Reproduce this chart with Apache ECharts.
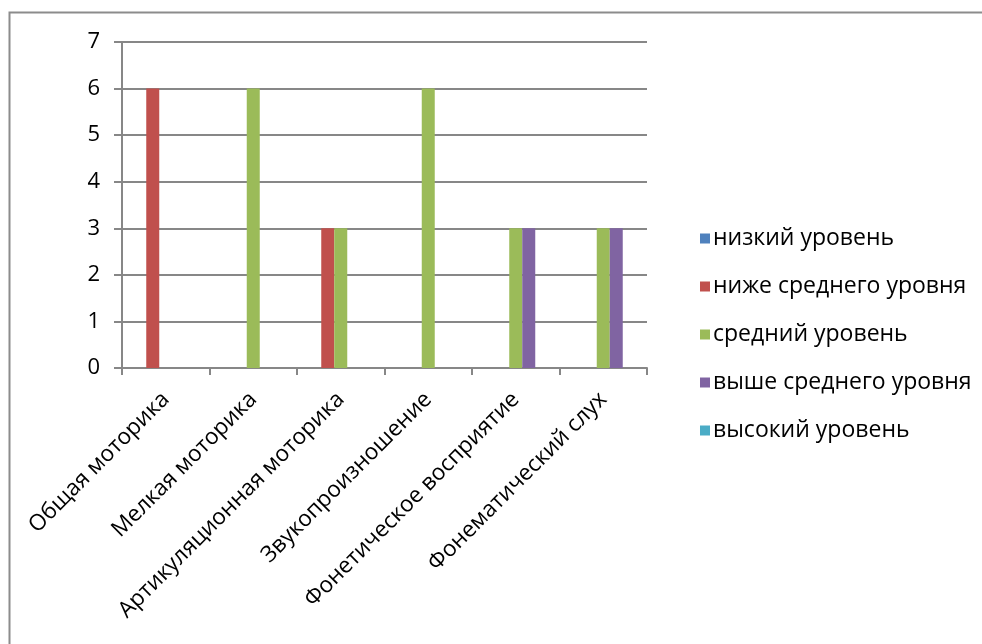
<!DOCTYPE html>
<html>
<head>
<meta charset="utf-8">
<script src="https://cdn.jsdelivr.net/npm/echarts@6/dist/echarts.min.js"></script>
<style>
html,body{margin:0;padding:0;background:#fff;}
#chart{width:982px;height:644px;}
</style>
</head>
<body>
<div id="chart"></div>
<script>
const categories = ["Общая моторика","Мелкая моторика","Артикуляционная моторика","Звукопроизношение","Фонетическое восприятие","Фонематический слух"];
const seriesNames = ["низкий уровень","ниже среднего уровня","средний уровень","выше среднего уровня","высокий уровень"];
const lowLevel = [0,0,0,0,0,0];
const belowAverage = [6,0,3,0,0,0];
const averageLevel = [0,6,3,6,3,3];
const aboveAverage = [0,0,0,0,3,3];
const highLevel = [0,0,0,0,0,0];
const yTicks = [0,1,2,3,4,5,6,7];

const colors = ["#4F81BD","#C0504D","#9BBB59","#8064A2","#4BACC6"];
const seriesData = [lowLevel, belowAverage, averageLevel, aboveAverage, highLevel];
const FONT = "Open Sans";
const chart = echarts.init(document.getElementById('chart'), null, {renderer:'canvas'});
chart.setOption({
  animation:false,
  color: colors,
  graphic:[{
    type:'rect', shape:{x:9.5,y:12.5,width:1000,height:700},
    style:{fill:'none',stroke:'#8c8c8c',lineWidth:2}, silent:true, z:-1
  }],
  grid:{left:122,right:335,top:42,bottom:276,containLabel:false},
  legend:{
    orient:'vertical', left:695, top:222,
    itemWidth:10, itemHeight:10, itemGap:25,
    icon:'rect',
    textStyle:{fontFamily:FONT,fontSize:23,color:'#000',padding:[0,0,0,-2]},
    data: seriesNames
  },
  xAxis:{
    type:'category', data:categories,
    axisLine:{lineStyle:{color:'#878787',width:2}},
    axisTick:{show:true,length:7,alignWithLabel:false,lineStyle:{color:'#878787',width:2}},
    axisLabel:{rotate:45,interval:0,margin:28,fontFamily:FONT,fontSize:22.5,color:'#000'}
  },
  yAxis:{
    type:'value', min:0, max:7, interval:1,
    axisLine:{show:true,lineStyle:{color:'#878787',width:2}},
    axisTick:{show:true,length:8,lineStyle:{color:'#878787',width:2}},
    splitLine:{lineStyle:{color:'#878787',width:2}},
    axisLabel:{margin:22,fontFamily:FONT,fontSize:22,color:'#000',
      formatter:function(v){return yTicks.indexOf(v)>=0?String(v):'';}}
  },
  series: seriesNames.map(function(n,i){
    return {name:n,type:'bar',data:seriesData[i],barWidth:13,barGap:'0%',
      itemStyle:{color:colors[i]}};
  })
});
</script>
</body>
</html>
